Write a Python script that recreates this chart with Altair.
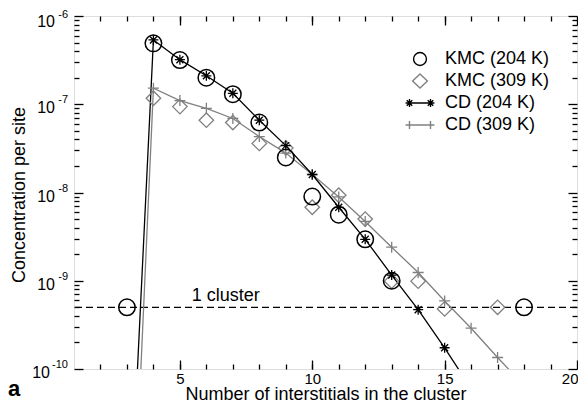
import altair as alt
import pandas as pd

# ---------------- data ----------------
series_names = ["KMC (204 K)", "KMC (309 K)", "CD (204 K)", "CD (309 K)"]

kmc204_x = [3, 4, 5, 6, 7, 8, 9, 10, 11, 12, 13, 18]
kmc204_y = [5e-10, 4.9e-7, 3.17e-7, 2.0e-7, 1.3e-7, 6.2e-8, 2.5e-8, 9.0e-9, 5.6e-9, 2.95e-9, 1.0e-9, 5e-10]

kmc309_x = [4, 5, 6, 7, 8, 9, 10, 11, 12, 13, 14, 15, 17]
kmc309_y = [1.17e-7, 9.4e-8, 6.6e-8, 6.2e-8, 3.6e-8, 3.2e-8, 6.8e-9, 9.3e-9, 5.0e-9, 9.9e-10, 9.9e-10, 4.8e-10, 5e-10]

cd204_x = [3, 4, 5, 6, 7, 8, 9, 10, 11, 12, 13, 14, 15, 16]
cd204_y = [3.5e-13, 5.35e-7, 3.2e-7, 2.1e-7, 1.33e-7, 6.6e-8, 3.4e-8, 1.6e-8, 6.8e-9, 2.95e-9, 1.16e-9, 4.7e-10, 1.74e-10, 6e-11]

cd309_x = [3, 4, 5, 6, 7, 8, 9, 10, 11, 12, 13, 14, 15, 16, 17, 18]
cd309_y = [3e-14, 1.52e-7, 1.1e-7, 9e-8, 6.9e-8, 4.3e-8, 2.8e-8, 1.6e-8, 8.9e-9, 4.7e-9, 2.4e-9, 1.24e-9, 5.9e-10, 2.9e-10, 1.35e-10, 6.5e-11]

one_cluster_level = [5e-10]
one_cluster_label = ["1 cluster"]
one_cluster_label_x = [5.45]

x_major = [5, 10, 15, 20]
x_minor = list(range(2, 20))
y_major = [1e-6, 1e-7, 1e-8, 1e-9, 1e-10]
y_exp = ["-6", "-7", "-8", "-9", "-10"]
y_minor = [k * 10.0 ** d for d in range(-10, -6) for k in range(2, 10)]

# ---------------- styling ----------------
W, H = 503, 353
BLACK = "#000000"
GRAY = "#808080"
FONT = "Liberation Sans"

xscale = alt.Scale(type="linear", domain=[1, 20], nice=False, zero=False)
yscale = alt.Scale(type="log", domain=[1e-10, 1e-6], nice=False)


def aster(cx=0.0, r=1.0):
    d = r * 0.7
    return (f"M{cx-r},0L{cx+r},0M{cx},{-r}L{cx},{r}"
            f"M{cx-d},{-d}L{cx+d},{d}M{cx-d},{d}L{cx+d},{-d}")


def plus(cx=0.0, r=1.0):
    return f"M{cx-r},0L{cx+r},0M{cx},{-r}L{cx},{r}"


ASTER = aster()
PLUS = plus()

# legend symbols (unit = half of the 28px symbol box)
LEG_CIRCLE = "M0.46,0A0.46,0.46,0,1,1,-0.46,0A0.46,0.46,0,1,1,0.46,0Z"
LEG_DIAMOND = "M0,-0.5L0.53,0L0,0.5L-0.53,0Z"
LEG_CD204 = "M-0.75,0L0.75,0" + aster(-0.75, 0.28) + aster(0.75, 0.28)
LEG_CD309 = "M-0.75,0L0.75,0" + plus(-0.75, 0.28) + plus(0.75, 0.28)

df_k204 = pd.DataFrame({"x": kmc204_x, "y": kmc204_y})
df_k309 = pd.DataFrame({"x": kmc309_x, "y": kmc309_y})
df_c204 = pd.DataFrame({"x": cd204_x, "y": cd204_y})
df_c309 = pd.DataFrame({"x": cd309_x, "y": cd309_y})


def enc(axis_x=None, axis_y=None):
    return dict(
        x=alt.X("x:Q", scale=xscale, axis=axis_x, title=None),
        y=alt.Y("y:Q", scale=yscale, axis=axis_y, title=None),
    )


def line(df, color):
    return alt.Chart(df).mark_line(color=color, strokeWidth=1.3, clip=True).encode(**enc())


def pts(df, shape, color, size, sw):
    return alt.Chart(df).mark_point(shape=shape, filled=False, color=color, size=size,
                                    strokeWidth=sw, opacity=1, clip=True).encode(**enc())


def tick_axis(orient, offset, values, size):
    return alt.Axis(orient=orient, offset=offset, values=values, ticks=True, tickSize=size,
                    tickWidth=1.3, tickColor=BLACK, labels=False, domain=False, grid=False)


def carrier(ax, ay):
    return alt.Chart(df_k204).mark_point(opacity=0).encode(**enc(ax, ay))


main_x = alt.Axis(orient="bottom", values=x_major, ticks=False, tickSize=0, domain=False,
                  grid=False, labelFontSize=15, labelPadding=2, labelColor=BLACK,
                  labelFlush=True, labelFlushOffset=1, labelOverlap=False, format="d",
                  labelFont=FONT,
                  title="Number of interstitials in the cluster", titleFontSize=18,
                  titleFontWeight="normal", titleColor=BLACK, titleFont=FONT,
                  titleX=W / 2, titleY=30, titleBaseline="alphabetic")
main_y = alt.Axis(orient="left", labels=False, ticks=False, domain=False, grid=False,
                  title="Concentration per site", titleFontSize=18, titleFontWeight="normal",
                  titleColor=BLACK, titleFont=FONT, titleX=-50, titleY=H / 2 + 2,
                  titleBaseline="alphabetic")

c1 = alt.Chart(df_k204).mark_point(opacity=0).encode(
    x=alt.X("x:Q", scale=xscale, axis=main_x),
    y=alt.Y("y:Q", scale=yscale, axis=main_y))
c2 = carrier(tick_axis("top", -H, x_minor, 5), tick_axis("right", -W, y_minor, 5))
c3 = carrier(tick_axis("top", -H, x_major, 9), tick_axis("right", -W, y_major, 9))
c4 = carrier(tick_axis("bottom", -H, x_minor, 5), tick_axis("left", -W, y_minor, 5))
c5 = carrier(tick_axis("bottom", -H, x_major, 9), tick_axis("left", -W, y_major, 9))

# y tick labels as 10 with superscript exponent
ylab = pd.DataFrame({"v": y_major, "exp": y_exp})
is_top = ylab["v"] == max(y_major)
is_long = ylab["exp"].str.len() == 3
grp_top = ylab[is_top]
grp_mid = ylab[~is_top & ~is_long]
grp_long = ylab[is_long]


def ten(df, dx, dy):
    return alt.Chart(df).mark_text(text="10", align="right", baseline="alphabetic", dx=dx, dy=dy,
                                   fontSize=16, font=FONT, color=BLACK).encode(
        x=alt.X(datum=1, scale=xscale, axis=None),
        y=alt.Y("v:Q", scale=yscale, axis=None))


def expo(df, dy):
    return alt.Chart(df).mark_text(align="right", baseline="alphabetic", dx=-6, dy=dy,
                                   fontSize=11, font=FONT, color=BLACK).encode(
        x=alt.X(datum=1, scale=xscale, axis=None),
        y=alt.Y("v:Q", scale=yscale, axis=None),
        text="exp:N")


ylabel_layers = [
    ten(grp_top, -19, 11), ten(grp_mid, -19, 9), ten(grp_long, -24, 9),
    expo(grp_top, 2), expo(ylab[~is_top], -1),
]

# dashed 1-cluster line and label
rule_df = pd.DataFrame({"y": one_cluster_level})
rule = alt.Chart(rule_df).mark_rule(color=BLACK, strokeWidth=1.2, strokeDash=[7, 4]).encode(
    y=alt.Y("y:Q", scale=yscale, axis=None))
lab_df = pd.DataFrame({"x": one_cluster_label_x, "y": one_cluster_level, "t": one_cluster_label})
lab = alt.Chart(lab_df).mark_text(align="left", baseline="alphabetic", dy=-6, fontSize=18,
                                  font=FONT, color=BLACK).encode(
    x=alt.X("x:Q", scale=xscale, axis=None),
    y=alt.Y("y:Q", scale=yscale, axis=None),
    text="t:N")

# legend from an invisible layer
leg_df = pd.DataFrame({"series": series_names, "x": [4, 4, 4, 4],
                       "y": [kmc204_y[1], kmc309_y[0], cd204_y[1], cd309_y[1]]})
leg_params = dict(orient="none", legendX=331, legendY=32, title=None, symbolSize=784,
                  symbolStrokeWidth=1.4, symbolOpacity=1, labelFontSize=18, labelFont=FONT,
                  labelColor=BLACK, labelOffset=10, rowPadding=0, clipHeight=22, padding=0)
leg = alt.Chart(leg_df).mark_point(opacity=0, filled=False).encode(
    x=alt.X("x:Q", scale=xscale, axis=None),
    y=alt.Y("y:Q", scale=yscale, axis=None),
    color=alt.Color("series:N", scale=alt.Scale(domain=series_names,
                                                range=[BLACK, GRAY, BLACK, GRAY]),
                    legend=alt.Legend(**leg_params)),
    shape=alt.Shape("series:N", scale=alt.Scale(domain=series_names,
                                                range=[LEG_CIRCLE, LEG_DIAMOND, LEG_CD204, LEG_CD309]),
                    legend=alt.Legend(**leg_params)),
)

layers = [
    c1, c2, c3, c4, c5,
    rule, lab,
    line(df_c309, GRAY), line(df_c204, BLACK),
    pts(df_k309, "diamond", GRAY, 210, 1.3),
    pts(df_k204, "circle", BLACK, 272, 1.5),
    pts(df_c309, PLUS, GRAY, 121, 1.3),
    pts(df_c204, ASTER, BLACK, 100, 1.3),
    *ylabel_layers,
    leg,
]

chart = alt.layer(*layers).resolve_axis(x="independent", y="independent").properties(
    width=W, height=H, autosize="none",
    padding={"left": 66, "top": 8, "right": 1, "bottom": 34},
    title=alt.TitleParams("a", orient="bottom", anchor="start", frame="group", dx=-66,
                          offset=-24, fontSize=22, fontWeight="bold", font=FONT, color=BLACK),
).configure_view(stroke=BLACK, strokeWidth=1.6).configure(font=FONT)

chart.save("out.html", embed_options={"renderer": "svg", "actions": False})
